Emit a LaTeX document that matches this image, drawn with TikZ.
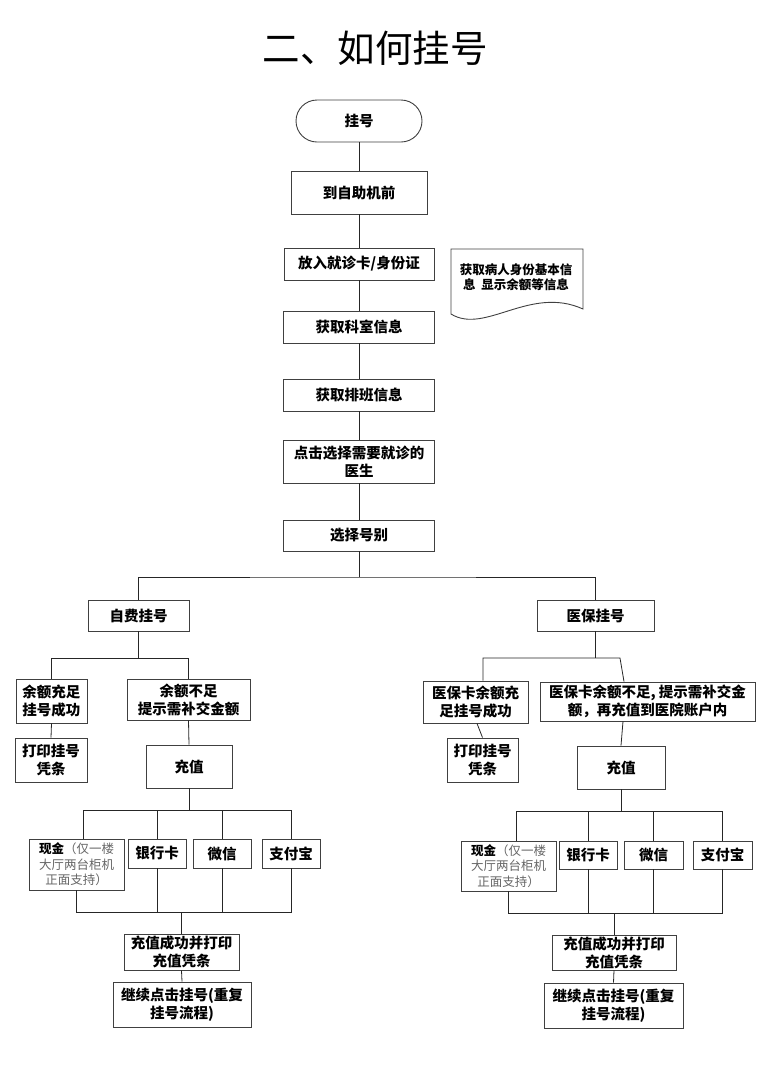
\documentclass[tikz,border=0pt]{standalone}
\usepackage{fontspec}
\setmainfont{Noto Sans CJK SC}
\usetikzlibrary{calc}
\begin{document}
\begin{tikzpicture}[x=1pt,y=-1pt,
  box/.style={draw=black!75, line width=0.9pt, fill=white, inner sep=0pt, align=center, font=\bfseries\fontsize{14.5}{18}\selectfont},
  smallbox/.style={box, font=\fontsize{12.5}{15.5}\selectfont, text=black!60},
  term/.style={box, rounded corners=21pt},
  conn/.style={draw=black!85, line width=0.8pt},
  docline/.style={draw=black!75, line width=0.9pt}]
\useasboundingbox (0,0) rectangle (763,1080);
% title
\node[font=\fontsize{37.5}{40}\selectfont] (title) at (375,48) {二、如何挂号};
% main chain
\node[term, minimum width=126pt, minimum height=42pt] (start) at (359,121) {挂号};
\node[box, minimum width=136pt, minimum height=43pt] (s1) at (359,192.5) {到自助机前};
\node[box, minimum width=150pt, minimum height=32pt] (s2) at (359,264) {放入就诊卡/身份证};
\node[box, minimum width=151pt, minimum height=32pt] (s3) at (359,327) {获取科室信息};
\node[box, minimum width=151pt, minimum height=32pt] (s4) at (359,395) {获取排班信息};
\node[box, minimum width=151pt, minimum height=43pt] (s5) at (359,461.5) {点击选择需要就诊的\\医生};
\node[box, minimum width=151pt, minimum height=31pt] (s6) at (359,535.5) {选择号别};
% document shape
\draw[docline] (451,249) -- (583,249) -- (583,309) .. controls (530,285) and (485,335) .. (451,314) -- cycle;
\node[font=\bfseries\fontsize{12.5}{14.5}\selectfont, align=center] (doc) at (516,277) {获取病人身份基本信\\息\ \ 显示余额等信息};
% branches
\node[box, minimum width=101pt, minimum height=31pt] (zf) at (138.5,615.5) {自费挂号};
\node[box, minimum width=117pt, minimum height=31pt] (yb) at (595.5,615.5) {医保挂号};
% left side
\node[box, minimum width=71pt, minimum height=44pt] (ok1) at (51.5,701) {余额充足\\挂号成功};
\node[box, minimum width=123pt, minimum height=41pt] (no1) at (188.5,699.5) {余额不足\\提示需补交金额};
\node[box, minimum width=72pt, minimum height=44pt] (pr1) at (51,760) {打印挂号\\凭条};
\node[box, minimum width=86pt, minimum height=43pt] (cz1) at (189,766.5) {充值};
\node[smallbox, minimum width=95pt, minimum height=51pt] (xj1) at (76.5,864.5) {{\bfseries\color{black}现金}（仅一楼\\大厅两台柜机\\正面支持）};
\node[box, minimum width=58pt, minimum height=29pt] (yh1) at (157,853.5) {银行卡};
\node[box, minimum width=58pt, minimum height=29pt] (wx1) at (222,853.5) {微信};
\node[box, minimum width=58pt, minimum height=29pt] (zfb1) at (291,853.5) {支付宝};
\node[box, minimum width=115pt, minimum height=36pt] (cg1) at (181.5,952) {充值成功并打印\\充值凭条};
\node[box, minimum width=138pt, minimum height=45pt] (jx1) at (182,1004.5) {继续点击挂号(重复\\挂号流程)};
% right side
\node[box, minimum width=105pt, minimum height=42pt] (ok2) at (475.5,702) {医保卡余额充\\足挂号成功};
\node[box, minimum width=215pt, minimum height=39pt] (no2) at (647.5,701.5) {医保卡余额不足, 提示需补交金\\额，再充值到医院账户内};
\node[box, minimum width=71pt, minimum height=44pt] (pr2) at (482.5,760) {打印挂号\\凭条};
\node[box, minimum width=88pt, minimum height=43pt] (cz2) at (621,767.5) {充值};
\node[smallbox, minimum width=95pt, minimum height=50pt] (xj2) at (508.5,866) {{\bfseries\color{black}现金}（仅一楼\\大厅两台柜机\\正面支持）};
\node[box, minimum width=58pt, minimum height=28pt] (yh2) at (588,855) {银行卡};
\node[box, minimum width=59pt, minimum height=28pt] (wx2) at (653.5,855) {微信};
\node[box, minimum width=59pt, minimum height=28pt] (zfb2) at (722.5,855) {支付宝};
\node[box, minimum width=124pt, minimum height=35pt] (cg2) at (614,952.5) {充值成功并打印\\充值凭条};
\node[box, minimum width=139pt, minimum height=45pt] (jx2) at (613.5,1005.5) {继续点击挂号(重复\\挂号流程)};
% junction coordinates
\coordinate (b0) at (359,577);
\coordinate (b1) at (138.5,658);
\coordinate (b2) at (189,810);
\coordinate (b3) at (181.5,912);
\coordinate (b4) at (595.5,658);
\coordinate (b4r) at (620,658);
\coordinate (b5) at (621,811);
\coordinate (b6) at (614,913);
% connectors main chain
\draw[conn] (start) -- (s1);
\draw[conn] (s1) -- (s2);
\draw[conn] (s2) -- (s3);
\draw[conn] (s3) -- (s4);
\draw[conn] (s4) -- (s5);
\draw[conn] (s5) -- (s6);
\draw[conn] (s6.south) -- (b0);
\draw[conn] (zf.north) |- (b0) -| (yb.north);
% left connectors
\draw[conn] (zf.south) -- (b1);
\draw[conn] (ok1.north) |- (b1) -| (no1.north);
\draw[conn] (ok1.south) -- (pr1.north);
\draw[conn] (no1.south) -- (cz1.north);
\draw[conn] (cz1.south) -- (b2);
\draw[conn] ($(xj1.north)+(6.5,0)$) |- (b2) -| (zfb1.north);
\draw[conn] (yh1.north) |- (b2);
\draw[conn] (wx1.north) |- (b2);
\draw[conn] (xj1.south) |- (b3) -| (zfb1.south);
\draw[conn] (yh1.south) |- (b3);
\draw[conn] (wx1.south) |- (b3);
\draw[conn] (b3) -- (cg1.north);
\draw[conn] (cg1.south) -- (jx1.north);
% right connectors
\draw[conn] (yb.south) -- (b4);
\draw[conn] ($(ok2.north)+(7.5,0)$) |- (b4) -- (b4r) -- ($(no2.north)+(-23.5,0)$);
\draw[conn] ($(ok2.south)+(1.5,0)$) -- (pr2.north);
\draw[conn] ($(no2.south)+(-24.5,0)$) -- (cz2.north);
\draw[conn] (cz2.south) -- (b5);
\draw[conn] ($(xj2.north)+(7.5,0)$) |- (b5) -| (zfb2.north);
\draw[conn] (yh2.north) |- (b5);
\draw[conn] (wx2.north) |- (b5);
\draw[conn] (xj2.south) |- (b6) -| (zfb2.south);
\draw[conn] (yh2.south) |- (b6);
\draw[conn] (wx2.south) |- (b6);
\draw[conn] (b6) -- (cg2.north);
\draw[conn] (cg2.south) -- (jx2.north);
\end{tikzpicture}
\end{document}
